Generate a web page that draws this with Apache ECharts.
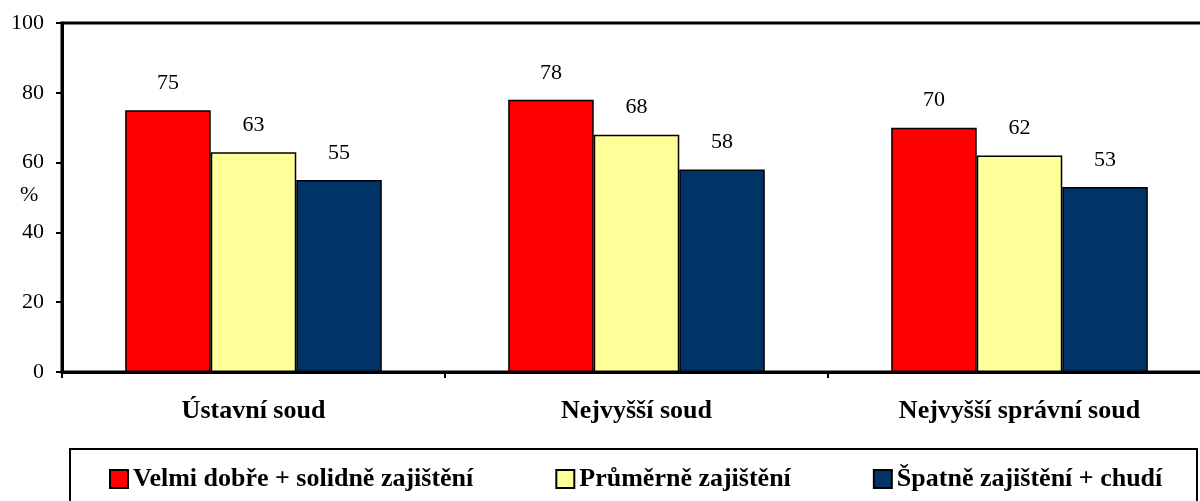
<!DOCTYPE html>
<html>
<head>
<meta charset="utf-8">
<script src="https://cdn.jsdelivr.net/npm/echarts@6/dist/echarts.min.js"></script>
<style>
  html, body { margin: 0; padding: 0; background: #fff; }
  #chart { width: 1200px; height: 501px; }
</style>
</head>
<body>
<div id="chart"></div>
<script>
const categories = ['Ústavní soud', 'Nejvyšší soud', 'Nejvyšší správní soud'];
const seriesNames = ['Velmi dobře + solidně zajištění', 'Průměrně zajištění', 'Špatně zajištění + chudí'];
const velmiDobre = [75, 78, 70];
const prumerne = [63, 68, 62];
const spatne = [55, 58, 53];
const colors = ['#ff0000', '#ffff99', '#003366'];
const yAxisTitle = '%';

const font = '"Liberation Serif", "Times New Roman", serif';

const chart = echarts.init(document.getElementById('chart'));

const labelOption = {
  show: true,
  position: 'top',
  distance: 16,
  color: '#000',
  fontFamily: font,
  fontSize: 22
};

function makeSeries(name, data, color) {
  return {
    name: name,
    type: 'bar',
    barGap: 0,
    barCategoryGap: '33%',
    label: labelOption,
    itemStyle: { color: color, borderColor: '#000', borderWidth: 1.5 },
    data: data
  };
}

const option = {
  animation: false,
  backgroundColor: '#fff',
  grid: {
    left: 62,
    top: 23,
    width: 1149,
    height: 349,
    outerBoundsMode: 'none',
    containLabel: false,
    show: true,
    borderColor: '#000',
    borderWidth: 3,
    backgroundColor: 'transparent'
  },
  legend: {
    data: seriesNames,
    left: 104,
    top: 461,
    itemGap: 82,
    itemWidth: 18,
    itemHeight: 18,
    icon: 'rect',
    textStyle: { fontFamily: font, fontSize: 26, fontWeight: 'bold', color: '#000' }
  },
  graphic: [
    {
      type: 'rect',
      shape: { x: 70, y: 449, width: 1127, height: 60 },
      style: { fill: 'none', stroke: '#000', lineWidth: 2 },
      z: -1
    },
    {
      // y axis title, left of the axis in the middle
      type: 'text',
      left: 20,
      top: 184,
      style: { text: yAxisTitle, fill: '#000', font: '22px ' + font }
    }
  ],
  xAxis: {
    type: 'category',
    data: categories,
    axisLine: { lineStyle: { color: '#000', width: 3 } },
    axisTick: { show: true, length: 6, lineStyle: { color: '#000', width: 2 } },
    axisLabel: { margin: 26, color: '#000', fontFamily: font, fontSize: 26, fontWeight: 'bold' }
  },
  yAxis: {
    type: 'value',
    min: 0,
    max: 100,
    interval: 20,
    axisLine: { show: true, lineStyle: { color: '#000', width: 3 } },
    axisTick: { show: true, length: 6, lineStyle: { color: '#000', width: 2 } },
    splitLine: { show: false },
    axisLabel: { margin: 18, color: '#000', fontFamily: font, fontSize: 22 }
  },
  series: [
    makeSeries(seriesNames[0], velmiDobre, colors[0]),
    makeSeries(seriesNames[1], prumerne, colors[1]),
    makeSeries(seriesNames[2], spatne, colors[2])
  ]
};

chart.setOption(option);
</script>
</body>
</html>
